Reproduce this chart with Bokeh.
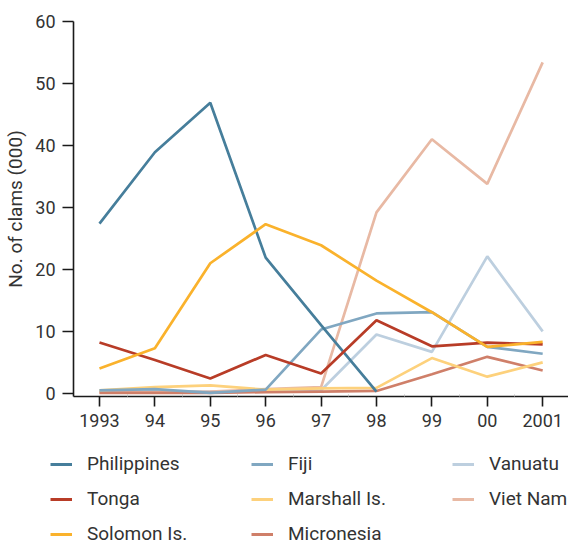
from bokeh.plotting import figure
from bokeh.models import Range1d, FixedTicker, Legend, LegendItem
from bokeh.embed import file_html
from bokeh.resources import INLINE

nan = float("nan")

years = [1993, 1994, 1995, 1996, 1997, 1998, 1999, 2000, 2001]
tick_labels = ["1993", "94", "95", "96", "97", "98", "99", "00", "2001"]

philippines = [27.4, 38.9, 46.9, 21.9, 11.0, 0.3, nan, nan, nan]
tonga = [8.2, 5.4, 2.4, 6.2, 3.2, 11.8, 7.6, 8.2, 7.9]
solomon = [4.0, 7.3, 21.0, 27.3, 23.9, 18.2, 13.1, 7.5, 8.3]
fiji = [0.5, 0.7, 0.1, 0.6, 10.3, 12.9, 13.1, 7.5, 6.4]
marshall = [0.5, 1.0, 1.3, 0.6, 0.8, 0.9, 5.7, 2.7, 5.0]
micronesia = [0.1, 0.1, 0.1, 0.2, 0.3, 0.4, 3.1, 5.9, 3.7]
vanuatu = [0.4, 0.4, 0.3, 0.4, 0.5, 9.5, 6.7, 22.1, 10.0]
vietnam = [0.2, 0.2, 0.3, 0.7, 1.0, 29.2, 41.0, 33.8, 53.4]

series = {
    "Philippines": (philippines, "#467e9b"),
    "Tonga": (tonga, "#b83c27"),
    "Solomon Is.": (solomon, "#fab22c"),
    "Fiji": (fiji, "#80a7c1"),
    "Marshall Is.": (marshall, "#fdd17c"),
    "Micronesia": (micronesia, "#cf7f69"),
    "Vanuatu": (vanuatu, "#bdcfdf"),
    "Viet Nam": (vietnam, "#e8b9a4"),
}
draw_order = ["Vanuatu", "Viet Nam", "Micronesia", "Marshall Is.", "Fiji",
              "Philippines", "Tonga", "Solomon Is."]
legend_order = ["Philippines", "Tonga", "Solomon Is.", "Fiji", "Marshall Is.",
                "Micronesia", "Vanuatu", "Viet Nam"]

FONT = "Roboto"
TXT = "#333333"
LW = 2.7

# ---------------- main chart ----------------
p = figure(width=568, height=440, output_backend="svg", toolbar_location=None,
           x_range=Range1d(1992.531, 2001.466), y_range=Range1d(-0.5, 60))
p.min_border_left = 73
p.min_border_right = 0
p.min_border_top = 21
p.min_border_bottom = 44
p.outline_line_color = None
p.grid.visible = False

for name in draw_order:
    vals, col = series[name]
    p.line(years, vals, line_color=col, line_width=LW)

p.xaxis.ticker = FixedTicker(ticks=years,
                             minor_ticks=[y + 0.5 for y in years[:-1]])
p.xaxis.major_label_overrides = {y: t for y, t in zip(years, tick_labels)}
p.yaxis.ticker = FixedTicker(ticks=[0, 10, 20, 30, 40, 50, 60])
for ax in (p.xaxis, p.yaxis):
    ax.axis_line_color = "#1a1a1a"
    ax.axis_line_width = 1.6
    ax.major_tick_line_color = "#1a1a1a"
    ax.major_tick_line_width = 1.6
    ax.major_tick_in = 0
    ax.major_label_text_font = FONT
    ax.major_label_text_font_size = "18px"
    ax.major_label_text_color = TXT
p.xaxis.major_tick_out = 10
p.xaxis.major_label_standoff = 7
p.xaxis.minor_tick_in = 2
p.xaxis.minor_tick_out = 0
p.xaxis.minor_tick_line_color = "#bbbbbb"
p.yaxis.major_tick_out = 11
p.yaxis.major_label_standoff = 7
p.yaxis.minor_tick_line_color = None
p.yaxis.axis_label = "No. of clams (000)"
p.yaxis.axis_label_text_font = FONT
p.yaxis.axis_label_text_font_size = "19px"
p.yaxis.axis_label_text_font_style = "normal"
p.yaxis.axis_label_text_color = TXT
p.yaxis.axis_label_standoff = 5

# ---------------- legend panel (separate root, no frame alignment) ----------------
q = figure(width=568, height=105, output_backend="svg", toolbar_location=None,
           x_range=Range1d(0, 1), y_range=Range1d(0, 1))
q.min_border_left = 0
q.min_border_right = 0
q.min_border_top = 0
q.min_border_bottom = 0
q.outline_line_color = None
q.axis.visible = False
q.grid.visible = False

swatches = {}
for name in legend_order:
    _, col = series[name]
    # hidden helper renderer: only its line style is used by the legend swatch
    swatches[name] = q.line([nan], [nan], line_color=col, line_width=3)

legend = Legend(
    items=[LegendItem(label=n, renderers=[swatches[n]]) for n in legend_order],
    location=(50, 0), nrows=3, orientation="vertical",
    glyph_width=22, glyph_height=22, label_height=22, label_width=152,
    label_standoff=15, spacing=12, padding=0, margin=0,
    border_line_color=None, background_fill_alpha=0,
    label_text_font=FONT, label_text_font_size="19px", label_text_color=TXT,
)
q.add_layout(legend, "center")

open("out.html", "w").write(file_html([p, q], INLINE))
